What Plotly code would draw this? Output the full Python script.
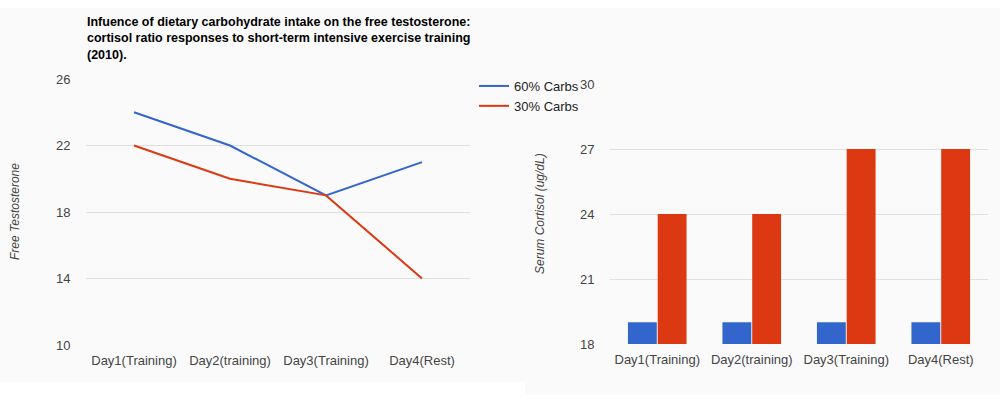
import plotly.graph_objects as go

categories = ["Day1(Training)", "Day2(training)", "Day3(Training)", "Day4(Rest)"]
series_names = ["60% Carbs", "30% Carbs"]
testosterone_60 = [24, 22, 19, 21]
testosterone_30 = [22, 20, 19, 14]
cortisol_60 = [19, 19, 19, 19]
cortisol_30 = [24, 24, 27, 27]
t_ticks = [10, 14, 18, 22, 26]
c_ticks = [18, 21, 24, 27, 30]

BLUE = "#3366cc"
RED = "#dc3912"
W, H = 1000, 403
FONT = "Arial, 'Liberation Sans', sans-serif"

def px(x):
    return x / W

def py(y):
    return 1 - y / H

fig = go.Figure()
fig.add_trace(go.Scatter(x=categories, y=testosterone_60, name=series_names[0], mode="lines",
                         line=dict(color=BLUE, width=2), xaxis="x", yaxis="y"))
fig.add_trace(go.Scatter(x=categories, y=testosterone_30, name=series_names[1], mode="lines",
                         line=dict(color=RED, width=2), xaxis="x", yaxis="y"))
fig.add_trace(go.Bar(x=categories, y=cortisol_60, name=series_names[0], marker=dict(color=BLUE, line=dict(width=0)),
                     xaxis="x2", yaxis="y2", showlegend=False))
fig.add_trace(go.Bar(x=categories, y=cortisol_30, name=series_names[1], marker=dict(color=RED, line=dict(width=0)),
                     xaxis="x2", yaxis="y2", showlegend=False))

axis_font = dict(family=FONT, size=13, color="#444444")
common_x = dict(type="category", showgrid=False, showline=False, zeroline=False, tickfont=axis_font,
                range=[-0.5, len(categories) - 0.5],
                ticks="outside", ticklen=3, tickcolor="rgba(0,0,0,0)", automargin=False)
common_y = dict(showgrid=True, gridcolor="#e0e0e0", gridwidth=1, zeroline=False, showline=False,
                tickfont=axis_font, ticks="outside", ticklen=12, tickcolor="rgba(0,0,0,0)", automargin=False)

fig.update_layout(
    template="none",
    width=W, height=H,
    margin=dict(l=0, r=0, t=0, b=0, pad=0),
    autosize=False,
    paper_bgcolor="white",
    plot_bgcolor="rgba(0,0,0,0)",
    font=dict(family=FONT, size=13, color="#222222"),
    barmode="group", bargap=0.37, bargroupgap=0.03,
    xaxis=dict(domain=[px(86), px(470)], anchor="y", **common_x),
    yaxis=dict(domain=[py(345), py(79)], anchor="x", range=[10, 26], tickvals=t_ticks, **common_y),
    xaxis2=dict(domain=[px(610), px(988)], anchor="y2", **common_x),
    yaxis2=dict(domain=[py(344), py(84)], anchor="x2", range=[18, 30], tickvals=c_ticks, **common_y),
    legend=dict(x=px(474), y=py(71), xanchor="left", yanchor="top", bgcolor="rgba(0,0,0,0)",
                font=dict(family=FONT, size=13, color="#222222"), tracegroupgap=0, itemwidth=30),
    shapes=[
        dict(type="rect", xref="paper", yref="paper", x0=0, x1=px(525), y0=py(382), y1=py(8),
             fillcolor="#fafafa", line=dict(width=0), layer="below"),
        dict(type="rect", xref="paper", yref="paper", x0=px(525), x1=1, y0=py(395), y1=py(8),
             fillcolor="#fafafa", line=dict(width=0), layer="below"),
    ],
    annotations=[
        dict(text="<b>Infuence of dietary carbohydrate intake on the free testosterone:<br>"
                  "cortisol ratio responses to short-term intensive exercise training<br>(2010).</b>",
             xref="paper", yref="paper", x=px(85), y=py(13), xanchor="left", yanchor="top",
             align="left", showarrow=False, font=dict(family=FONT, size=12.5, color="#000000")),
        dict(text="<i>Free Testosterone</i>", xref="paper", yref="paper", x=px(15), y=py(212),
             xanchor="center", yanchor="middle",
             textangle=-90, showarrow=False, font=dict(family=FONT, size=12, color="#444444")),
        dict(text="<i>Serum Cortisol (ug/dL)</i>", xref="paper", yref="paper", x=px(540), y=py(214),
             xanchor="center", yanchor="middle",
             textangle=-90, showarrow=False, font=dict(family=FONT, size=12, color="#444444")),
    ],
)

fig.write_html("out.html")
